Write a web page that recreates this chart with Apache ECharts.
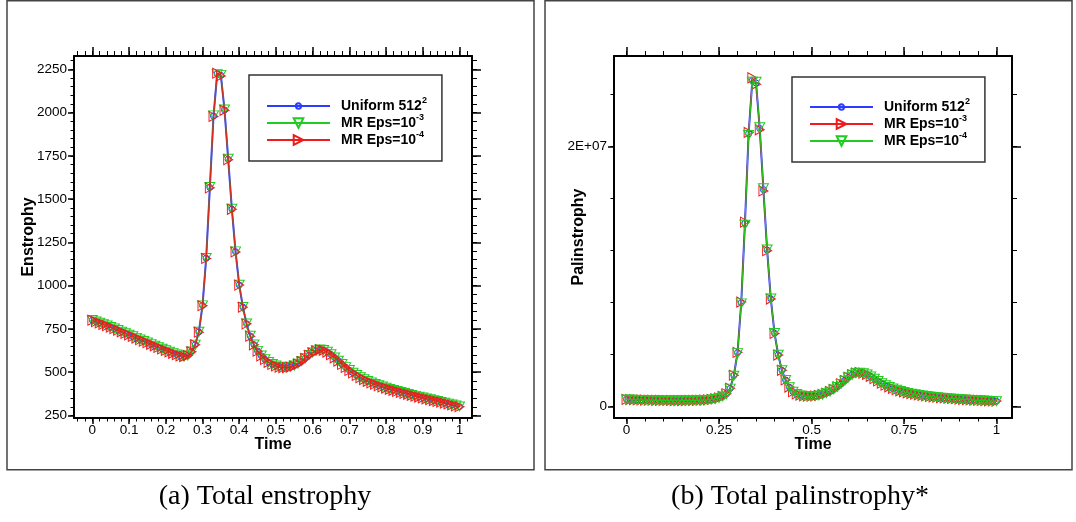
<!DOCTYPE html>
<html>
<head>
<meta charset="utf-8">
<script src="https://cdn.jsdelivr.net/npm/echarts@6/dist/echarts.min.js"></script>
<style>html,body{margin:0;padding:0;background:#fff}#c{width:1076px;height:522px}</style>
</head>
<body>
<div id="c"></div>
<script>
// ---- data ----
const time = [0,0.01,0.02,0.03,0.04,0.05,0.06,0.07,0.08,0.09,
0.1,0.11,0.12,0.13,0.14,0.15,0.16,0.17,0.18,0.19,
0.2,0.21,0.22,0.23,0.24,0.25,0.26,0.27,0.28,0.29,
0.3,0.31,0.32,0.33,0.34,0.35,0.36,0.37,0.38,0.39,
0.4,0.41,0.42,0.43,0.44,0.45,0.46,0.47,0.48,0.49,
0.5,0.51,0.52,0.53,0.54,0.55,0.56,0.57,0.58,0.59,
0.6,0.61,0.62,0.63,0.64,0.65,0.66,0.67,0.68,0.69,
0.7,0.71,0.72,0.73,0.74,0.75,0.76,0.77,0.78,0.79,
0.8,0.81,0.82,0.83,0.84,0.85,0.86,0.87,0.88,0.89,
0.9,0.91,0.92,0.93,0.94,0.95,0.96,0.97,0.98,0.99,1];

const enstrophyUniform = [800,792,784,776,768,760,751,742,733,724,
715,706,697,688,679,670,661,652,643,634,
625,617,609,601,594,590,596,618,658,732,
885,1158,1567,1980,2225,2215,2015,1730,1442,1196,
1004,876,780,709,659,622,595,574,558,546,
537,530,527,527,530,537,548,562,580,598,
612,624,630,627,617,602,584,565,546,528,
511,496,482,469,458,448,439,431,423,416,
409,402,396,390,384,378,373,367,362,357,
352,347,342,337,332,327,322,317,312,306,301];
const enstrophyMR3 = [801,793,785,777,769,761,752,743,734,725,
716,707,698,689,680,671,662,653,644,635,
626,618,610,602,595,591,597,619,659,733,
886,1160,1570,1984,2222,2218,2018,1733,1444,1198,
1005,877,781,710,660,623,596,575,559,547,
538,531,528,528,531,538,549,563,581,599,
613,625,631,628,618,603,585,566,547,529,
512,497,483,470,459,449,440,432,424,417,
410,403,397,391,385,379,374,368,363,358,
353,348,343,338,333,328,323,318,313,307,302];
const enstrophyMR4 = [800,792,784,776,768,760,751,742,733,724,
715,706,697,688,679,670,661,652,643,634,
625,617,609,601,594,590,596,618,658,731,
884,1157,1565,1978,2228,2212,2013,1728,1441,1195,
1003,875,779,708,658,621,594,573,557,545,
536,529,526,526,529,536,547,561,579,597,
611,623,629,626,616,601,583,564,545,527,
510,495,481,468,457,447,438,430,422,415,
408,401,395,389,383,377,372,366,361,356,
351,346,341,336,331,326,321,316,311,305,300];

const palinUniform = [0.55e6,0.54e6,0.53e6,0.52e6,0.51e6,0.50e6,0.50e6,0.49e6,0.49e6,0.48e6,
0.48e6,0.48e6,0.47e6,0.47e6,0.47e6,0.47e6,0.47e6,0.47e6,0.48e6,0.48e6,
0.49e6,0.50e6,0.52e6,0.55e6,0.60e6,0.67e6,0.78e6,0.98e6,1.40e6,2.40e6,
4.15e6,8.0e6,14.1e6,21.0e6,25.1e6,24.9e6,21.4e6,16.7e6,12.05e6,8.3e6,
5.65e6,3.98e6,2.8e6,2.05e6,1.5e6,1.15e6,0.97e6,0.87e6,0.82e6,0.80e6,
0.80e6,0.82e6,0.86e6,0.93e6,1.03e6,1.16e6,1.32e6,1.52e6,1.75e6,2.0e6,
2.25e6,2.45e6,2.58e6,2.62e6,2.58e6,2.48e6,2.33e6,2.15e6,1.97e6,1.80e6,
1.65e6,1.52e6,1.40e6,1.30e6,1.21e6,1.13e6,1.06e6,1.00e6,0.95e6,0.90e6,
0.86e6,0.82e6,0.78e6,0.75e6,0.72e6,0.69e6,0.66e6,0.64e6,0.62e6,0.60e6,
0.58e6,0.56e6,0.54e6,0.52e6,0.50e6,0.49e6,0.47e6,0.46e6,0.44e6,0.43e6,0.42e6];
const palinMR3 = [0.56e6,0.55e6,0.54e6,0.53e6,0.52e6,0.51e6,0.50e6,0.50e6,0.49e6,0.49e6,
0.48e6,0.48e6,0.48e6,0.47e6,0.47e6,0.47e6,0.47e6,0.48e6,0.48e6,0.49e6,
0.50e6,0.51e6,0.53e6,0.56e6,0.61e6,0.68e6,0.79e6,0.99e6,1.42e6,2.42e6,
4.18e6,8.05e6,14.2e6,21.1e6,25.3e6,24.8e6,21.3e6,16.6e6,12.0e6,8.28e6,
5.64e6,3.97e6,2.8e6,2.06e6,1.51e6,1.16e6,0.98e6,0.88e6,0.83e6,0.81e6,
0.81e6,0.83e6,0.87e6,0.94e6,1.04e6,1.17e6,1.33e6,1.53e6,1.76e6,2.01e6,
2.26e6,2.46e6,2.59e6,2.63e6,2.59e6,2.49e6,2.34e6,2.16e6,1.98e6,1.81e6,
1.66e6,1.53e6,1.41e6,1.31e6,1.22e6,1.14e6,1.07e6,1.01e6,0.96e6,0.91e6,
0.87e6,0.83e6,0.79e6,0.76e6,0.73e6,0.70e6,0.67e6,0.65e6,0.63e6,0.61e6,
0.59e6,0.57e6,0.55e6,0.53e6,0.51e6,0.50e6,0.48e6,0.47e6,0.45e6,0.44e6,0.43e6];
const palinMR4 = [0.55e6,0.54e6,0.53e6,0.52e6,0.51e6,0.50e6,0.50e6,0.49e6,0.49e6,0.48e6,
0.48e6,0.48e6,0.47e6,0.47e6,0.47e6,0.47e6,0.47e6,0.47e6,0.48e6,0.48e6,
0.49e6,0.50e6,0.52e6,0.55e6,0.60e6,0.67e6,0.78e6,0.97e6,1.39e6,2.38e6,
4.12e6,7.95e6,14.0e6,20.9e6,25.0e6,25.0e6,21.5e6,16.8e6,12.1e6,8.33e6,
5.67e6,3.99e6,2.81e6,2.05e6,1.5e6,1.15e6,0.97e6,0.87e6,0.82e6,0.80e6,
0.80e6,0.82e6,0.86e6,0.93e6,1.03e6,1.16e6,1.32e6,1.52e6,1.75e6,2.0e6,
2.25e6,2.45e6,2.58e6,2.62e6,2.58e6,2.48e6,2.33e6,2.15e6,1.97e6,1.80e6,
1.65e6,1.52e6,1.40e6,1.30e6,1.21e6,1.13e6,1.06e6,1.00e6,0.95e6,0.90e6,
0.86e6,0.82e6,0.78e6,0.75e6,0.72e6,0.69e6,0.66e6,0.64e6,0.62e6,0.60e6,
0.58e6,0.56e6,0.54e6,0.52e6,0.50e6,0.49e6,0.47e6,0.46e6,0.44e6,0.43e6,0.42e6];

// tick labels
const xTicksA = [0,0.1,0.2,0.3,0.4,0.5,0.6,0.7,0.8,0.9,1];
const yTicksA = [250,500,750,1000,1250,1500,1750,2000,2250];
const xTicksB = [0,0.25,0.5,0.75,1];
const yTicksB = [0,2e7];

const legendText = {
  a_u: ['Uniform 512', '2'], a_m3: ['MR Eps=10', '-3'], a_m4: ['MR Eps=10', '-4'],
  b_u: ['Uniform 512', '2'], b_m3: ['MR Eps=10', '-3'], b_m4: ['MR Eps=10', '-4']
};
const captions = ['(a) Total enstrophy', '(b) Total palinstrophy*'];

// ---- helpers ----
function steps(a, b, s) { const r = []; for (let v = a; v <= b + 1e-9; v += s) r.push(Math.round(v * 1e6) / 1e6); return r; }
const xMinorA = steps(-0.04, 1.02, 0.02);
const yMinorA = steps(250, 2300, 50);
const xMinorB = steps(0, 1, 0.05);
const yMinorB = steps(0, 24e6, 4e6);

const FONT = "'Liberation Sans', Arial, Helvetica, sans-serif";
const BLUE = '#2b3bff', GREEN = '#1fcc1f', RED = '#ee1c1c';
const CIRCLE = 'path://M0,0 M20,20 M10,4.5 A5.5,5.5,0,1,1,10,15.5 A5.5,5.5,0,1,1,10,4.5 Z';
const TRI_DOWN = 'path://M0,0 L10,0 L5,9 Z';
const TRI_RIGHT = 'path://M0,0 L9,5 L0,10 Z';

function plain(v) { return String(Math.round(v * 1e6) / 1e6); }
function sci(v) {
  if (v === 0) return '0';
  const e = Math.floor(Math.log10(Math.abs(v)));
  const m = Math.round(v / Math.pow(10, e) * 100) / 100;
  return m + 'E+' + String(e).padStart(2, '0');
}

function axisSet(dim, gridIndex, min, max, majors, minors, name, nameGap, fmt) {
  const isX = dim === 'x';
  const p1 = isX ? 'bottom' : 'left', p2 = isX ? 'top' : 'right';
  const base = { type: 'value', gridIndex, min, max, scale: true, splitLine: { show: false }, axisPointer: { show: false } };
  const line = { show: true, onZero: false, lineStyle: { color: '#000', width: 2 } };
  const noLine = { show: false, onZero: false };
  const main = Object.assign({}, base, {
    position: p1, axisLine: line,
    axisTick: { show: true, customValues: majors, length: 6, lineStyle: { color: '#000', width: 1.5 } },
    axisLabel: { show: true, customValues: majors, margin: isX ? 5 : 7, color: '#000', fontSize: 13.5, fontFamily: FONT, formatter: fmt || plain },
    name, nameLocation: 'middle', nameGap, nameRotate: isX ? 0 : 90, nameMoveOverlap: false,
    nameTextStyle: { color: '#000', fontSize: 16, fontWeight: 'bold', fontFamily: FONT }
  });
  const minor1 = Object.assign({}, base, { position: p1, axisLine: noLine, axisLabel: { show: false },
    axisTick: { show: true, customValues: minors, length: 3.5, lineStyle: { color: '#000', width: 1 } } });
  const major2 = Object.assign({}, base, { position: p2, axisLine: line, axisLabel: { show: false },
    axisTick: { show: true, customValues: majors, length: 9, lineStyle: { color: '#000', width: 1.5 } } });
  const minor2 = Object.assign({}, base, { position: p2, axisLine: noLine, axisLabel: { show: false },
    axisTick: { show: true, customValues: minors, length: 5, lineStyle: { color: '#000', width: 1 } } });
  return [main, minor1, major2, minor2];
}

function series(name, axisIdx, ys, color, width, symbol, size, z) {
  return {
    type: 'line', name, xAxisIndex: axisIdx, yAxisIndex: axisIdx,
    data: time.map((t, i) => [t, ys[i]]),
    symbol, symbolSize: size, showSymbol: true, showAllSymbol: true,
    lineStyle: { color, width },
    itemStyle: { color: 'rgba(255,255,255,0)', borderColor: color, borderWidth: 1 },
    emphasis: { disabled: true }, z, animation: false
  };
}

const rich = {
  b: { fontSize: 14, fontWeight: 'bold', fontFamily: FONT, color: '#000', lineHeight: 20 },
  s: { fontSize: 9, fontWeight: 'bold', fontFamily: FONT, color: '#000', lineHeight: 9, verticalAlign: 'top' }
};
function legendCfg(names, left, top, padTop) {
  return {
    data: names, orient: 'vertical', left, top,
    itemWidth: 63, itemHeight: 12, itemGap: 0,
    padding: [padTop, 15, 14, 17],
    borderColor: '#333', borderWidth: 1.5, backgroundColor: '#fff',
    selectedMode: false,
    formatter: n => '{b|' + legendText[n][0] + '}{s|' + legendText[n][1] + '}',
    textStyle: { padding: [0, 0, 0, 6], rich }
  };
}

const xAxis = [].concat(
  axisSet('x', 0, -0.05, 1.034, xTicksA, xMinorA, 'Time', 19),
  axisSet('x', 1, -0.034, 1.042, xTicksB, xMinorB, 'Time', 19)
);
const yAxis = [].concat(
  axisSet('y', 0, 235, 2327, yTicksA, yMinorA, 'Enstrophy', 37),
  axisSet('y', 1, -0.87e6, 26.98e6, yTicksB, yMinorB, 'Palinstrophy', 27, sci)
);

const option = {
  animation: false,
  backgroundColor: '#fff',
  grid: [
    { left: 74, top: 56, width: 398, height: 362, containLabel: false, outerBoundsMode: 'none' },
    { left: 614, top: 56, width: 398, height: 362, containLabel: false, outerBoundsMode: 'none' }
  ],
  xAxis, yAxis,
  legend: [legendCfg(['a_u', 'a_m3', 'a_m4'], 249, 75, 21), legendCfg(['b_u', 'b_m3', 'b_m4'], 792, 77, 20)],
  series: [
    series('a_u', 0, enstrophyUniform, BLUE, 2, CIRCLE, 11, 2),
    series('a_m3', 0, enstrophyMR3, GREEN, 1, TRI_DOWN, [10, 9], 3),
    series('a_m4', 0, enstrophyMR4, RED, 1, TRI_RIGHT, [9, 10], 4),
    series('b_u', 4, palinUniform, BLUE, 2, CIRCLE, 11, 2),
    series('b_m3', 4, palinMR3, RED, 1, TRI_RIGHT, [9, 10], 3),
    series('b_m4', 4, palinMR4, GREEN, 1, TRI_DOWN, [10, 9], 4)
  ],
  graphic: [
    { type: 'rect', silent: true, shape: { x: 7, y: 0.75, width: 527, height: 469 }, style: { fill: 'none', stroke: '#444', lineWidth: 1.5 } },
    { type: 'rect', silent: true, shape: { x: 545, y: 0.75, width: 527, height: 469 }, style: { fill: 'none', stroke: '#444', lineWidth: 1.5 } },
    { type: 'text', silent: true, x: 265, y: 497, style: { text: captions[0], fontSize: 28, fontFamily: "'Liberation Serif', 'Times New Roman', serif", fill: '#000', align: 'center', verticalAlign: 'middle' } },
    { type: 'text', silent: true, x: 800, y: 497, style: { text: captions[1], fontSize: 28, fontFamily: "'Liberation Serif', 'Times New Roman', serif", fill: '#000', align: 'center', verticalAlign: 'middle' } }
  ]
};
const chart = echarts.init(document.getElementById('c'), null, { renderer: 'canvas' });
chart.setOption(option);
</script>
</body>
</html>
